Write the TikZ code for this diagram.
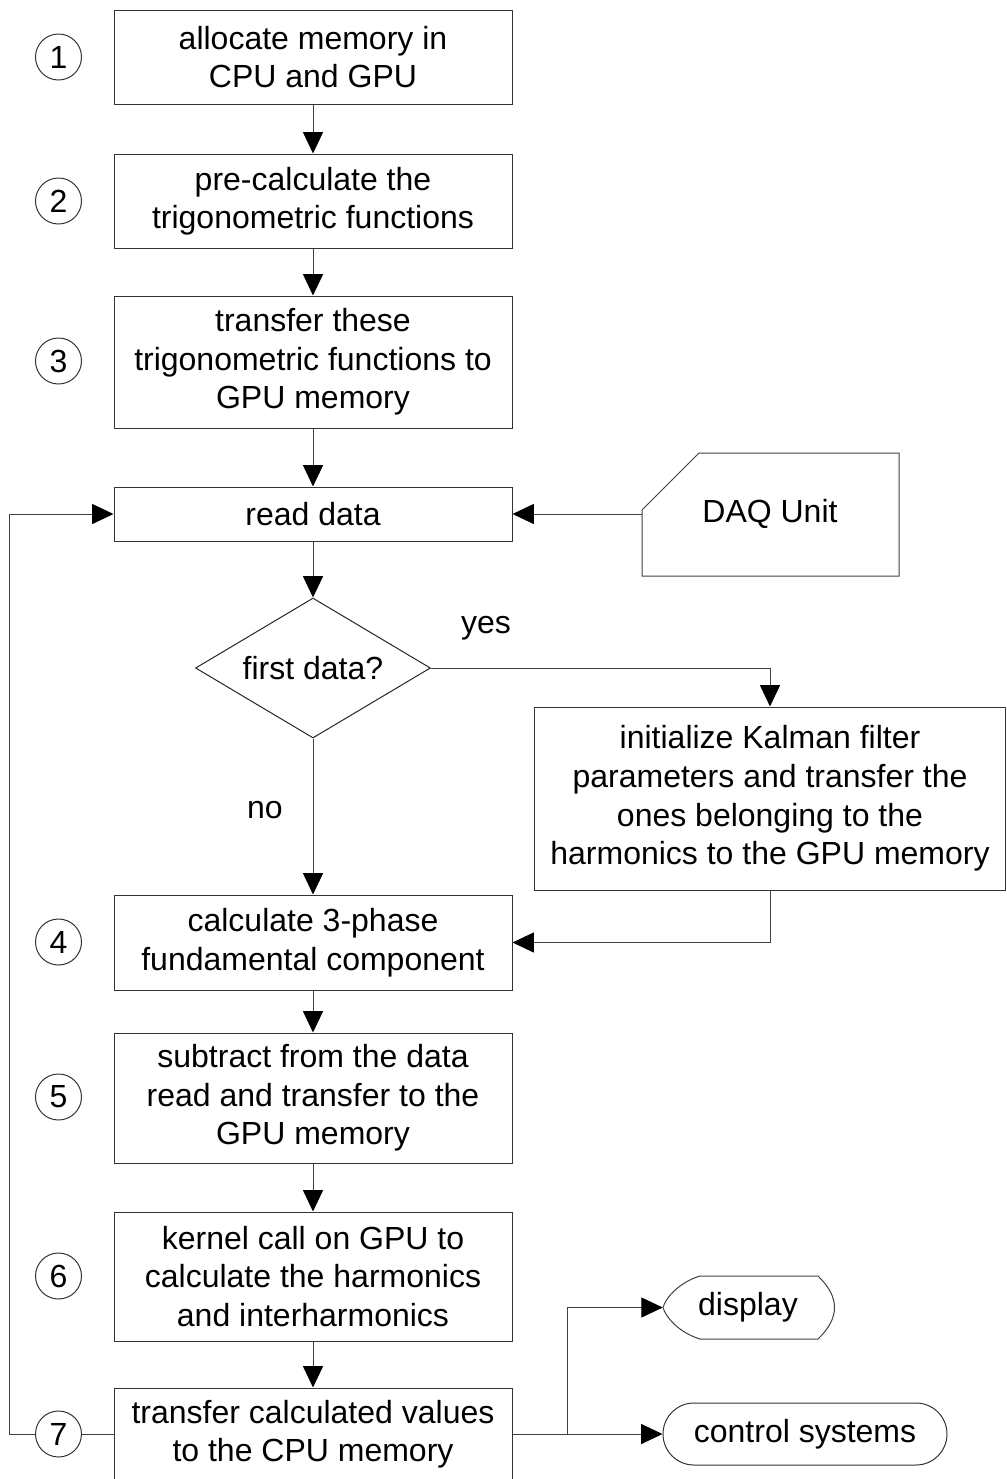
\documentclass[tikz,border=0pt]{standalone}
\usepackage{fontspec}
\setmainfont{Liberation Sans}
\usetikzlibrary{shapes.geometric,arrows.meta,calc}
\begin{document}
\begin{tikzpicture}[x=0.75pt,y=-0.75pt,
  font=\fontsize{24}{28.9}\selectfont,
  box/.style={draw=black!80, line width=0.75pt, rectangle, minimum width=298.5pt, align=center, inner sep=0pt},
  num/.style={draw=black!80, line width=0.75pt, circle, minimum size=34.5pt, inner sep=0pt},
  arr/.style={-{Triangle[length=16pt,width=15pt,fill=black,color=black]}, line width=0.75pt, draw=black!75},
  conn/.style={line width=0.75pt, draw=black!75},
  lbl/.style={inner sep=0pt}]
\useasboundingbox (0,0) rectangle (1007,1479);

% main column
\node[box, minimum height=70.5pt] (b1) at (313,57) {allocate memory in\\CPU and GPU};
\node[box, minimum height=70.5pt] (b2) at (313,201) {pre-calculate the\\trigonometric functions};
\node[box, minimum height=99pt] (b3) at (313,362) {transfer these\\trigonometric functions to\\GPU memory};
\node[box, minimum height=40.5pt] (rd) at (313,514) {read data};
\node[draw=black!85, line width=0.75pt, shape=diamond, shape aspect=1.68, minimum width=176.25pt, minimum height=105pt, inner sep=0pt] (dia) at (313,668) {first data?};
\node[box, minimum height=71.25pt] (b4) at (313,942.5) {calculate 3-phase\\fundamental component};
\node[box, minimum height=97.5pt] (b5) at (313,1098) {subtract from the data\\read and transfer to the\\GPU memory};
\node[box, minimum height=96.75pt] (b6) at (313,1276.5) {kernel call on GPU to\\calculate the harmonics\\and interharmonics};
\node[box, minimum height=69pt] (b7) at (313,1434) {transfer calculated values\\to the CPU memory};

% side boxes
\node[box, minimum width=353.25pt, minimum height=137.25pt] (kal) at (770,798.5) {initialize Kalman filter\\parameters and transfer the\\ones belonging to the\\harmonics to the GPU memory};

\draw[conn] (642,510) -- (699,453) -- (899,453) -- (899,576) -- (642,576) -- cycle;
\node[lbl] (daq) at (770,514) {DAQ Unit};
\coordinate (daqw) at (642,514);

% display shape
\node[minimum width=127.5pt, minimum height=47.25pt, inner sep=0pt] (disp) at (748,1307.5) {};
\draw[conn] (700,1276) -- (818,1276) .. controls (840,1297) and (840,1318) .. (818,1339)
  -- (700,1339) .. controls (680,1333) and (666,1318) .. (663,1307.5)
  .. controls (666,1297) and (680,1282) .. cycle;
\node[lbl] at (748,1307) {display};

\node[draw=black!80, line width=0.75pt, rounded corners=23.25pt, minimum width=213pt, minimum height=46.5pt, inner sep=0pt] (ctrl) at (805,1434) {control systems};

% numbers
\node[num] (c1) at (58.5,57) {1};
\node[num] (c2) at (58.5,201) {2};
\node[num] (c3) at (58.5,361) {3};
\node[num] (c4) at (58.5,942) {4};
\node[num] (c5) at (58.5,1097) {5};
\node[num] (c6) at (58.5,1276) {6};
\node[num] (c7) at (58.5,1434) {7};

% labels
\node[lbl] (yes) at (486,628) {yes};
\node[lbl] (no) at (265,810) {no};

% connectors
\draw[arr] (b1) -- (b2);
\draw[arr] (b2) -- (b3);
\draw[arr] (b3) -- (rd);
\draw[arr] (rd) -- (dia);
\draw[arr] (dia.south) -- (b4.north);
\draw[arr] (b4) -- (b5);
\draw[arr] (b5) -- (b6);
\draw[arr] (b6) -- (b7);
\draw[arr] (dia.east) -| (kal.north);
\draw[arr] (kal.south) |- (b4.east);
\draw[arr] (daqw) -- (rd.east);

\coordinate (loop) at (9,1434);
\draw[conn] (b7.west) -- (c7.east);
\draw[arr] (c7.west) -- (loop) |- (rd.west);

\coordinate (split) at (567,1434);
\draw[conn] (b7.east) -- (split);
\draw[arr] (split) |- (disp.west);
\draw[arr] (split) -- (ctrl.west);
\end{tikzpicture}
\end{document}
